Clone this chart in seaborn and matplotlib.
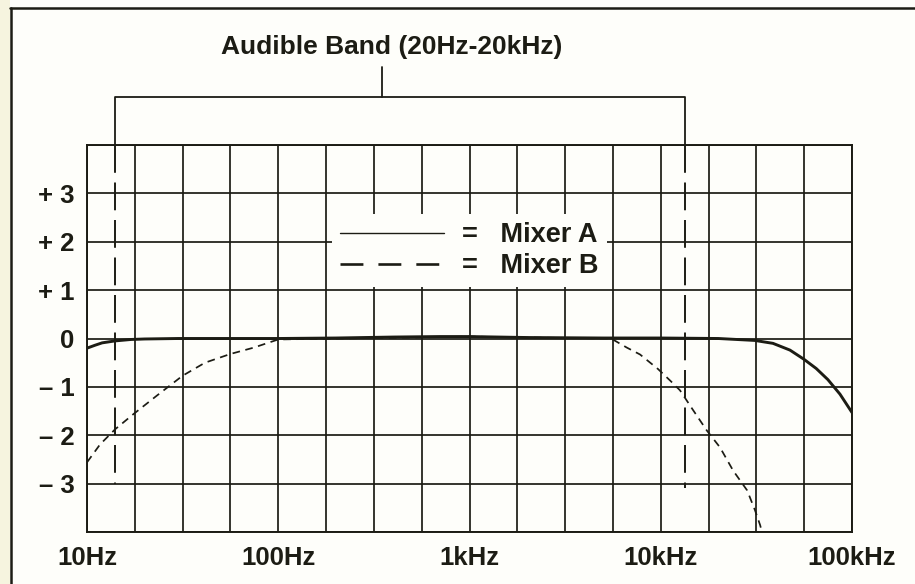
import matplotlib
matplotlib.use("Agg")
import numpy as np
import pandas as pd
import matplotlib.pyplot as plt
from matplotlib.lines import Line2D
from matplotlib.patches import Rectangle
from matplotlib.ticker import FixedLocator, FixedFormatter, NullFormatter
import seaborn as sns

# Frequency response readings: frequency in Hz, level in dB
mixer_a_hz = [10, 11, 12, 14, 17, 20, 30, 50, 100, 200, 400, 700, 1000, 2000,
              5000, 10000, 20000, 31000, 38600, 47400, 56100, 65000, 74800,
              86500, 100000]
mixer_a_db = [-0.2, -0.14, -0.09, -0.05, -0.02, -0.01, 0.0, 0.0, 0.0, 0.01,
              0.03, 0.04, 0.04, 0.02, 0.01, 0.01, 0.0, -0.04, -0.1, -0.24,
              -0.43, -0.62, -0.85, -1.15, -1.53]

mixer_b_hz = [10, 11.7, 14, 17.4, 23.2, 31.6, 41.4, 56.2, 74.2, 100, 200, 500,
              1000, 2000, 5500, 6660, 7790, 9670, 11200, 12600, 14700, 17400,
              20400, 23900, 28300, 31100, 33100, 33800]
mixer_b_db = [-2.56, -2.19, -1.88, -1.57, -1.18, -0.77, -0.5, -0.32, -0.19, -0.02,
              0.0, 0.02, 0.04, 0.02, 0.0, -0.19, -0.33, -0.63, -0.87, -1.07,
              -1.47, -1.9, -2.25, -2.73, -3.14, -3.55, -3.86, -4.0]

# Edges of the marked audible band (Hz)
band_edges_hz = [14.0, 13400]
band_title = "Audible Band (20Hz-20kHz)"

x_tick_hz = [10, 100, 1000, 10000, 100000]
x_tick_labels = ["10Hz", "100Hz", "1kHz", "10kHz", "100kHz"]
y_tick_db = [-4, -3, -2, -1, 0, 1, 2, 3, 4]
y_tick_labels = ["", "\u2013 3", "\u2013 2", "\u2013 1", "0", "+ 1", "+ 2", "+ 3", ""]

series_names = ["Mixer A", "Mixer B"]

INK = "#1c1c14"
PAPER = "#fefefa"

sns.set_theme(style="white")
plt.rcParams["font.family"] = ["Liberation Sans", "DejaVu Sans"]
plt.rcParams["font.weight"] = "bold"
plt.rcParams["lines.scale_dashes"] = False

W, H = 915, 584
fig = plt.figure(figsize=(W / 100, H / 100), dpi=100, facecolor=PAPER)
ax = fig.add_axes([87 / W, 52 / H, 765 / W, 387 / H])
ax.set_facecolor(PAPER)

df_a = pd.DataFrame({"freq": mixer_a_hz, "db": mixer_a_db})
df_b = pd.DataFrame({"freq": mixer_b_hz, "db": mixer_b_db})

sns.lineplot(data=df_a, x="freq", y="db", ax=ax, color=INK, lw=2.1,
             estimator=None, sort=False, zorder=4)
sns.lineplot(data=df_b, x="freq", y="db", ax=ax, color=INK, lw=1.25,
             estimator=None, sort=False, zorder=3)
ax.lines[-1].set_dashes([5.5, 4])

ax.set_xscale("log")
ax.set_xlim(10, 100000)
ax.set_ylim(-4, 4)

# grid every quarter decade and every dB
quarter = 10 ** (1 + np.arange(0, 17) / 4)
ax.xaxis.set_major_locator(FixedLocator(x_tick_hz))
ax.xaxis.set_major_formatter(FixedFormatter(x_tick_labels))
ax.xaxis.set_minor_locator(FixedLocator(quarter))
ax.xaxis.set_minor_formatter(NullFormatter())
ax.yaxis.set_major_locator(FixedLocator(y_tick_db))
ax.yaxis.set_major_formatter(FixedFormatter(y_tick_labels))
ax.grid(True, which="both", color=INK, lw=1.25, zorder=1)
ax.set_axisbelow(True)
ax.tick_params(axis="both", which="both", length=0, labelsize=18.5,
               labelcolor=INK)
ax.tick_params(axis="x", pad=10)
ax.tick_params(axis="y", pad=9)
for lab in ax.get_xticklabels() + ax.get_yticklabels():
    lab.set_fontweight("bold")
ax.set_xlabel("")
ax.set_ylabel("")
for sp in ax.spines.values():
    sp.set_visible(True)
    sp.set_color(INK)
    sp.set_linewidth(1.4)

# bracket over the audible band
lo, hi = band_edges_hz
ax.plot([lo, lo, hi, hi], [4, 5, 5, 4], color=INK, lw=1.3, clip_on=False,
        zorder=5)
ax.plot([350, 350], [5, 5.62], color=INK, lw=1.3, clip_on=False, zorder=5)
ax.plot([lo, lo], [4, -3.0], color=INK, lw=1.4, clip_on=False, zorder=5,
        dashes=[20, 7])
ax.plot([hi, hi], [4, -3.1], color=INK, lw=1.4, clip_on=False, zorder=5,
        dashes=[20, 7])
ax.text(390, 6.02, band_title, ha="center", va="center", fontsize=19,
        fontweight="bold", color=INK, clip_on=False)

# legend drawn as "line = name"
handles = [Line2D([], [], color=INK, lw=1.0),
           Line2D([], [], color=INK, lw=1.9, dashes=[16.5, 10.8])]
leg = ax.legend(handles, ["=   " + n for n in series_names],
                loc="upper left", bbox_to_anchor=(332 / W, 1 - 214 / H),
                bbox_transform=fig.transFigure, frameon=True, fancybox=False,
                framealpha=1, facecolor=PAPER, edgecolor="none",
                handlelength=3.85, handletextpad=0.66, labelspacing=0.19,
                borderpad=0.3, borderaxespad=0,
                prop={"family": ["Liberation Sans"], "weight": "bold",
                      "size": 19.5})
for t in leg.get_texts():
    t.set_color(INK)
leg.set_zorder(6)

# page frame
fig.add_artist(Rectangle((0, 0), 10 / W, 1, transform=fig.transFigure,
                         facecolor="#f6f4df", edgecolor="none", zorder=0))
fig.add_artist(Line2D([11 / W, 11 / W], [0, 1 - 8 / H], transform=fig.transFigure,
                      color=INK, lw=1.8))
fig.add_artist(Line2D([10 / W, 1], [1 - 8 / H, 1 - 8 / H],
                      transform=fig.transFigure, color=INK, lw=1.8))

fig.savefig("out.png", dpi=100, facecolor=PAPER)
